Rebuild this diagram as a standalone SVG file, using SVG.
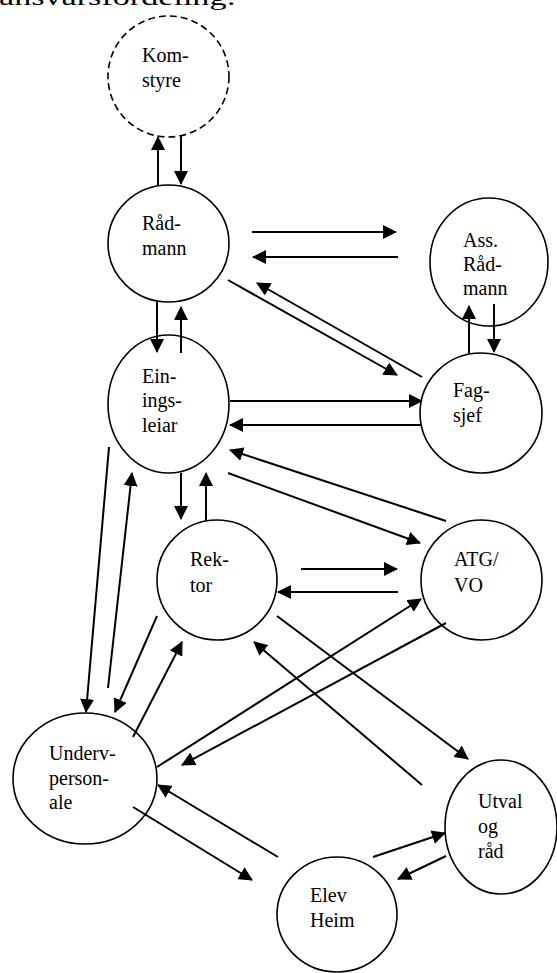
<svg xmlns="http://www.w3.org/2000/svg" width="557" height="973" viewBox="0 0 557 973">
<style>
.n{fill:none;stroke:#000;stroke-width:1.6}
.d{stroke-dasharray:7 4}
.t{font-family:"Liberation Serif","Times New Roman",serif;font-size:20px;fill:#000}
.c line{stroke:#000;stroke-width:2;marker-end:url(#ah)}
</style>
<defs>
<marker id="ah" markerUnits="userSpaceOnUse" markerWidth="14" markerHeight="14" refX="13" refY="7" orient="auto">
<path d="M0,0 L14,7 L0,14 z" fill="#000"/>
</marker>
</defs>
<rect width="557" height="973" fill="#fff"/>
<text class="t" x="-1" y="5" style="font-size:24px" textLength="237" lengthAdjust="spacingAndGlyphs">ansvarsfordeling:</text>
<g id="komstyre"><ellipse class="n d" cx="168.5" cy="76.5" rx="60.5" ry="60.5"/><text class="t" x="142" y="62">Kom-</text><text class="t" x="142" y="87">styre</text></g>
<g id="radmann"><ellipse class="n" cx="168.5" cy="243.5" rx="60.5" ry="58.5"/><text class="t" x="142" y="230">Råd-</text><text class="t" x="142" y="255">mann</text></g>
<g id="assradmann"><ellipse class="n" cx="489" cy="262" rx="59" ry="64"/><text class="t" x="463" y="247">Ass.</text><text class="t" x="463" y="271">Råd-</text><text class="t" x="463" y="295">mann</text></g>
<g id="einingsleiar"><ellipse class="n" cx="168.5" cy="404" rx="60.5" ry="69"/><text class="t" x="142" y="383">Ein-</text><text class="t" x="142" y="407">ings-</text><text class="t" x="142" y="432">leiar</text></g>
<g id="fagsjef"><ellipse class="n" cx="481" cy="413" rx="61" ry="60"/><text class="t" x="453" y="397">Fag-</text><text class="t" x="453" y="422">sjef</text></g>
<g id="rektor"><ellipse class="n" cx="217" cy="580" rx="60" ry="60"/><text class="t" x="190" y="566">Rek-</text><text class="t" x="190" y="592">tor</text></g>
<g id="atgvo"><ellipse class="n" cx="481.5" cy="580" rx="60.5" ry="60"/><text class="t" x="454" y="566">ATG/</text><text class="t" x="454" y="592">VO</text></g>
<g id="undervpersonale"><ellipse class="n" cx="85" cy="778.5" rx="72" ry="65.5"/><text class="t" x="49" y="760">Underv-</text><text class="t" x="49" y="785">person-</text><text class="t" x="49" y="809">ale</text></g>
<g id="utval"><ellipse class="n" cx="501" cy="827" rx="56" ry="67"/><text class="t" x="478" y="808">Utval</text><text class="t" x="478" y="833">og</text><text class="t" x="478" y="858">råd</text></g>
<g id="elevheim"><ellipse class="n" cx="337" cy="914.5" rx="60" ry="57.5"/><text class="t" x="310" y="902">Elev</text><text class="t" x="310" y="927">Heim</text></g>
<g id="connectors" class="c">
<line x1="158" y1="185" x2="158" y2="137"/>
<line x1="181" y1="135" x2="181" y2="184"/>
<line x1="252" y1="232" x2="396" y2="232"/>
<line x1="398" y1="257" x2="253" y2="257"/>
<line x1="228" y1="280" x2="397" y2="375"/>
<line x1="422" y1="377" x2="257" y2="283"/>
<line x1="469" y1="353" x2="469" y2="306"/>
<line x1="494" y1="304" x2="494" y2="352"/>
<line x1="157" y1="302" x2="157" y2="352"/>
<line x1="181" y1="353" x2="181" y2="307"/>
<line x1="230" y1="401" x2="422" y2="401"/>
<line x1="422" y1="425" x2="230" y2="425"/>
<line x1="228" y1="473" x2="420" y2="543"/>
<line x1="446" y1="521" x2="230" y2="450"/>
<line x1="181" y1="473" x2="181" y2="519"/>
<line x1="206" y1="521" x2="206" y2="473"/>
<line x1="109" y1="447" x2="86" y2="712"/>
<line x1="108" y1="688" x2="132" y2="473"/>
<line x1="301" y1="569" x2="397" y2="569"/>
<line x1="398" y1="592" x2="278" y2="592"/>
<line x1="157" y1="616" x2="115" y2="712"/>
<line x1="133" y1="737" x2="182" y2="642"/>
<line x1="157" y1="767" x2="421" y2="599"/>
<line x1="446" y1="623" x2="182" y2="765"/>
<line x1="277" y1="616" x2="468" y2="759"/>
<line x1="422" y1="785" x2="254" y2="642"/>
<line x1="133" y1="807" x2="252" y2="880"/>
<line x1="278" y1="857" x2="158" y2="785"/>
<line x1="373" y1="857" x2="445" y2="833"/>
<line x1="446" y1="856" x2="398" y2="879"/>
</g>
</svg>
